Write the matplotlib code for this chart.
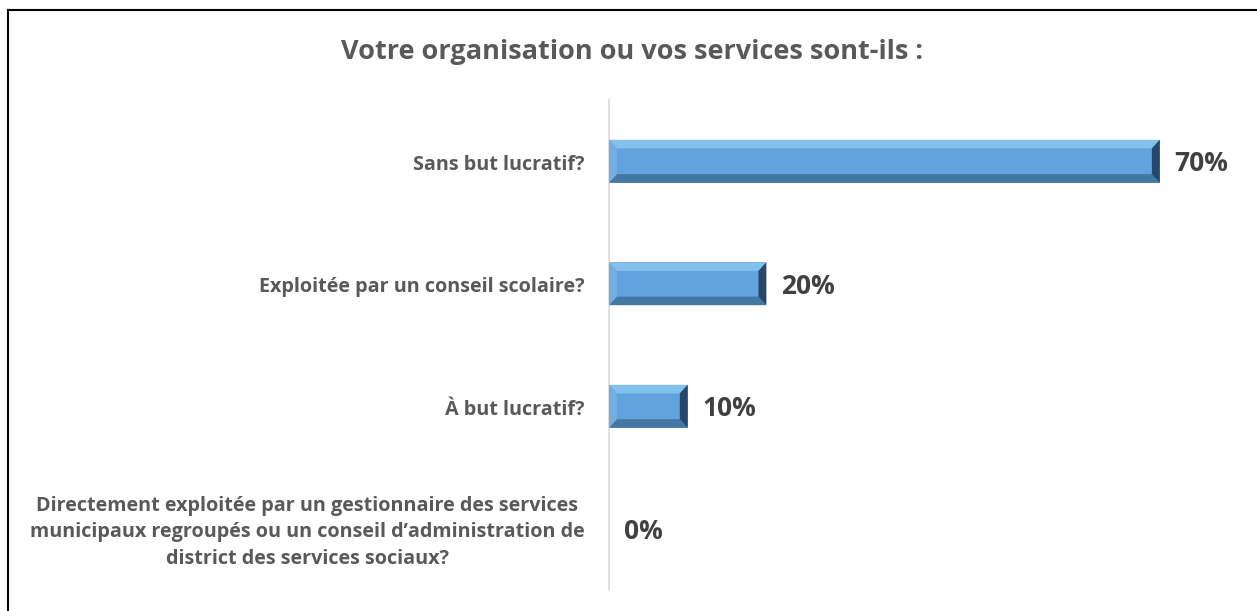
import matplotlib.pyplot as plt
from matplotlib.patches import Polygon

categories = [
    "Sans but lucratif?",
    "Exploitée par un conseil scolaire?",
    "À but lucratif?",
    "Directement exploitée par un gestionnaire des services\nmunicipaux regroupés ou un conseil d’administration de\ndistrict des services sociaux?",
]
values = [70, 20, 10, 0]
title = "Votre organisation ou vos services sont-ils :"

plt.rcParams['font.family'] = ['Open Sans', 'DejaVu Sans']

fig = plt.figure(figsize=(12.57, 6.11), dpi=100)
ax = fig.add_axes([609 / 1257, 21 / 611, 631 / 1257, 490 / 611])

ypos = list(range(len(categories)))
h = 0.35
bx = 1.0    # bevel width in % units
by = 0.07   # bevel height in slot units

main_c = "#62a3dd"
top_c = "#84c0ec"
bot_c = "#4577a3"
right_c = "#27476a"
left_c = "#72aee2"

for y, v in zip(ypos, values):
    if v > 0:
        y0, y1 = y - h / 2, y + h / 2
        ax.barh(y, v, height=h, color=main_c, edgecolor="none", zorder=2)
        # bevel faces
        ax.add_patch(Polygon([(0, y0), (v, y0), (v - bx, y0 + by), (bx, y0 + by)],
                             color=top_c, lw=0, zorder=3))
        ax.add_patch(Polygon([(0, y1), (v, y1), (v - bx, y1 - by), (bx, y1 - by)],
                             color=bot_c, lw=0, zorder=3))
        ax.add_patch(Polygon([(v, y0), (v, y1), (v - bx, y1 - by), (v - bx, y0 + by)],
                             color=right_c, lw=0, zorder=3))
        ax.add_patch(Polygon([(0, y0), (0, y1), (bx, y1 - by), (bx, y0 + by)],
                             color=left_c, lw=0, zorder=3))
    ax.text(v + 1.9, y + 0.02, f"{v}%", va="center", ha="left", fontsize=19,
            fontweight="bold", color="#404040")
    ax.text(-3.1, y + 0.03, categories[ypos.index(y)], va="center", ha="right",
            multialignment="center", fontsize=14.2, fontweight="bold",
            color="#595959", linespacing=1.45)

ax.set_xlim(0, 80.2)
ax.set_ylim(3.5, -0.5)
ax.set_xticks([])
ax.set_yticks([])
for s in ["top", "right", "bottom"]:
    ax.spines[s].set_visible(False)
ax.spines["left"].set_color("#d9d9d9")
ax.spines["left"].set_linewidth(1.2)

fig.text(632 / 1257, 1 - 52 / 611, title, ha="center", va="center",
         fontsize=19.5, fontweight="bold", color="#595959")

# chart frame (top and left edges)
fig.add_artist(plt.Line2D([7.5 / 1257, 1], [1 - 9.5 / 611, 1 - 9.5 / 611], color="black", lw=1.5))
fig.add_artist(plt.Line2D([7.5 / 1257, 7.5 / 1257], [0, 1 - 9.5 / 611], color="black", lw=1.5))

fig.savefig("out.png", dpi=100)
